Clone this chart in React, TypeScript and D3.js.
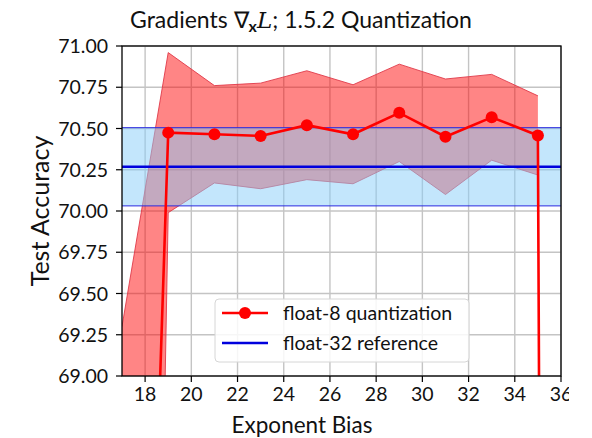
import React from "react";
import * as d3 from "d3";

// Exponent bias values and float-8 test accuracy (mean and std over runs)
const biasValues = [17, 19, 21, 23, 25, 27, 29, 31, 33, 35, 37];
const meanAccuracy = [62.0, 70.475, 70.465, 70.455, 70.52, 70.465, 70.595, 70.45, 70.568, 70.458, 10.0];
const stdAccuracy = [7.3, 0.485, 0.295, 0.32, 0.33, 0.3, 0.295, 0.35, 0.26, 0.24];

// float-32 reference accuracy
const refMean = 70.268;
const refStd = 0.237;

const xTicks = [18, 20, 22, 24, 26, 28, 30, 32, 34, 36];
const yTicks = [69.0, 69.25, 69.5, 69.75, 70.0, 70.25, 70.5, 70.75, 71.0];

const legendLabels = ["float-8 quantization", "float-32 reference"];

const W = 592;
const H = 438;
const M = { left: 122, right: 561, top: 46, bottom: 376 };
const FONT = "Lato, 'Open Sans', sans-serif";

export default function App() {
  const x = d3.scaleLinear().domain([17, 36]).range([M.left, M.right]);
  const y = d3.scaleLinear().domain([69, 71]).range([M.bottom, M.top]);

  const points = biasValues.map((b, i) => ({ b, m: meanAccuracy[i] }));
  const bandPts = stdAccuracy.map((s, i) => ({
    b: biasValues[i],
    lo: meanAccuracy[i] - s,
    hi: meanAccuracy[i] + s,
  }));

  const line = d3
    .line<{ b: number; m: number }>()
    .x((d) => x(d.b))
    .y((d) => y(d.m));
  const area = d3
    .area<{ b: number; lo: number; hi: number }>()
    .x((d) => x(d.b))
    .y0((d) => y(d.lo))
    .y1((d) => y(d.hi));
  const areaTop = d3
    .line<{ b: number; lo: number; hi: number }>()
    .x((d) => x(d.b))
    .y((d) => y(d.hi));
  const areaBot = d3
    .line<{ b: number; lo: number; hi: number }>()
    .x((d) => x(d.b))
    .y((d) => y(d.lo));

  const pw = M.right - M.left;
  const ph = M.bottom - M.top;

  const lgX = 215;
  const lgY = 299;

  return (
    <svg
      width={W}
      height={H}
      style={{ position: "absolute", left: 0, top: 0, background: "#fff" }}
      fontFamily={FONT}
    >
      <defs>
        <clipPath id="plotClip">
          <rect x={M.left} y={M.top} width={pw} height={ph} />
        </clipPath>
        <clipPath id="pageClip">
          <rect x={0} y={0} width={569} height={H} />
        </clipPath>
      </defs>
      <rect x={0} y={0} width={W} height={H} fill="#fff" />

      {/* grid */}
      <g stroke="#c4c4c4" strokeWidth={1.4}>
        {xTicks.map((t) => (
          <line key={"gx" + t} x1={x(t)} x2={x(t)} y1={M.top} y2={M.bottom} />
        ))}
        {yTicks.map((t) => (
          <line key={"gy" + t} x1={M.left} x2={M.right} y1={y(t)} y2={y(t)} />
        ))}
      </g>

      <g clipPath="url(#plotClip)">
        {/* float-8 spread */}
        <path d={area(bandPts) || ""} fill="#ff0000" fillOpacity={0.48} />
        <path d={areaTop(bandPts) || ""} fill="none" stroke="#e03a4a" strokeWidth={0.9} />
        <path d={areaBot(bandPts) || ""} fill="none" stroke="#e03a4a" strokeWidth={0.9} />

        {/* float-32 reference band */}
        <rect
          x={M.left}
          width={pw}
          y={y(refMean + refStd)}
          height={y(refMean - refStd) - y(refMean + refStd)}
          fill="#87cefa"
          fillOpacity={0.5}
        />
        <line x1={M.left} x2={M.right} y1={y(refMean + refStd)} y2={y(refMean + refStd)} stroke="#2a2ae0" strokeWidth={1} />
        <line x1={M.left} x2={M.right} y1={y(refMean - refStd)} y2={y(refMean - refStd)} stroke="#2a2ae0" strokeWidth={1} />
        <line x1={M.left} x2={M.right} y1={y(refMean)} y2={y(refMean)} stroke="#0000dd" strokeWidth={2.6} />

        {/* float-8 mean */}
        <path d={line(points) || ""} fill="none" stroke="#ff0000" strokeWidth={2.6} />
        {points.map((p) => (
          <circle key={"pt" + p.b} cx={x(p.b)} cy={y(p.m)} r={6} fill="#ff0000" />
        ))}
      </g>

      {/* frame */}
      <rect x={M.left} y={M.top} width={pw} height={ph} fill="none" stroke="#000" strokeWidth={1.3} />

      {/* y axis */}
      <g fontSize={19.5} fill="#111">
        {yTicks.map((t) => (
          <g key={"yt" + t}>
            <line x1={M.left - 6} x2={M.left} y1={y(t)} y2={y(t)} stroke="#000" strokeWidth={1.2} />
            <text x={M.left - 14} y={y(t)} dy="0.36em" textAnchor="end">
              {d3.format(".2f")(t)}
            </text>
          </g>
        ))}
      </g>

      {/* x axis */}
      <g fontSize={19.5} fill="#111" clipPath="url(#pageClip)">
        {xTicks.map((t) => (
          <g key={"xt" + t}>
            <line x1={x(t)} x2={x(t)} y1={M.bottom} y2={M.bottom + 6} stroke="#000" strokeWidth={1.2} />
            <text x={x(t)} y={M.bottom + 25} textAnchor="middle">
              {t}
            </text>
          </g>
        ))}
      </g>

      {/* axis titles */}
      <text x={302} y={433} fontSize={22.5} textAnchor="middle" fill="#111">
        Exponent Bias
      </text>
      <text
        transform={`translate(49, 211) rotate(-90)`}
        fontSize={25}
        textAnchor="middle"
        fill="#111"
      >
        Test Accuracy
      </text>

      {/* title */}
      <text x={301} y={28} fontSize={23} textAnchor="middle" fill="#111">
        <tspan>Gradients ∇</tspan>
        <tspan fontWeight="bold" fontSize={16} dy={4}>x</tspan>
        <tspan fontStyle="italic" fontFamily="'DejaVu Serif', serif" dy={-4}>L</tspan>
        <tspan>; 1.5.2 Quantization</tspan>
      </text>

      {/* legend */}
      <g>
        <rect x={lgX} y={lgY} width={254} height={63} rx={4} fill="#fff" fillOpacity={0.85} stroke="#d6d6d6" strokeWidth={1} />
        <line x1={lgX + 7} x2={lgX + 53} y1={lgY + 14} y2={lgY + 14} stroke="#ff0000" strokeWidth={2.6} />
        <circle cx={lgX + 30} cy={lgY + 14} r={6} fill="#ff0000" />
        <line x1={lgX + 7} x2={lgX + 53} y1={lgY + 44} y2={lgY + 44} stroke="#0000dd" strokeWidth={2.6} />
        <text x={lgX + 68} y={lgY + 14} dy="0.36em" fontSize={19.5} fill="#111">
          {legendLabels[0]}
        </text>
        <text x={lgX + 68} y={lgY + 44} dy="0.36em" fontSize={19.5} fill="#111">
          {legendLabels[1]}
        </text>
      </g>
    </svg>
  );
}
